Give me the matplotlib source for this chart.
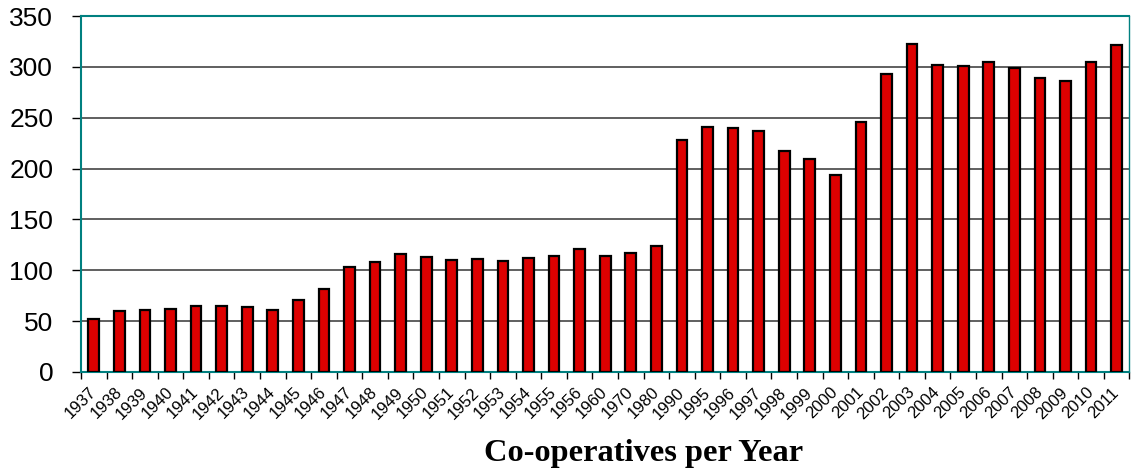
import numpy as np
import matplotlib
matplotlib.use("Agg")
import matplotlib.pyplot as plt

years = ["1937", "1938", "1939", "1940", "1941", "1942", "1943", "1944", "1945", "1946",
         "1947", "1948", "1949", "1950", "1951", "1952", "1953", "1954", "1955", "1956",
         "1960", "1970", "1980", "1990", "1995", "1996", "1997", "1998", "1999", "2000",
         "2001", "2002", "2003", "2004", "2005", "2006", "2007", "2008", "2009", "2010", "2011"]
cooperatives = [52, 60, 61, 62, 65, 65, 64, 61, 71, 82,
                103, 108, 116, 113, 110, 111, 109, 112, 114, 121,
                114, 117, 124, 228, 241, 240, 237, 217, 209, 194,
                246, 293, 323, 302, 301, 305, 299, 289, 286, 305, 322]

plt.rcParams["font.family"] = ["Liberation Sans", "DejaVu Sans"]

fig = plt.figure(figsize=(11.31, 4.72), dpi=100)
ax = fig.add_axes([0.0716, 0.212, 0.927, 0.754])

x = np.arange(len(years))
ax.bar(x, cooperatives, width=0.42, color="#dd0000", edgecolor="black", linewidth=1.6, zorder=3)

ax.set_xlim(-0.5, len(years) - 0.5)
ax.set_ylim(0, 350)
ax.set_yticks(np.arange(0, 351, 50))
ax.yaxis.grid(True, color="#444444", linewidth=1.2, zorder=0)
ax.tick_params(axis="y", labelsize=19, length=6.5, width=1, color="black", pad=13.5)

ax.set_xticks(x)
ax.set_xticklabels(years, rotation=45, ha="right", va="center", rotation_mode="anchor", fontsize=12)
ax.tick_params(axis="x", which="major", length=0, pad=13)
ax.set_xticks(np.arange(-0.5, len(years)), minor=True)
ax.tick_params(axis="x", which="minor", length=5, width=1, color="black")

for side in ["left", "right", "top", "bottom"]:
    ax.spines[side].set_color("#008080")
    ax.spines[side].set_linewidth(1.5)
ax.spines["right"].set_linewidth(1.0)

fig.text(0.569, 0.04, "Co-operatives per Year", ha="center", va="center",
         fontsize=23.3, fontweight="bold", family=["Liberation Serif", "DejaVu Serif"])

fig.savefig("out.png", dpi=100)
